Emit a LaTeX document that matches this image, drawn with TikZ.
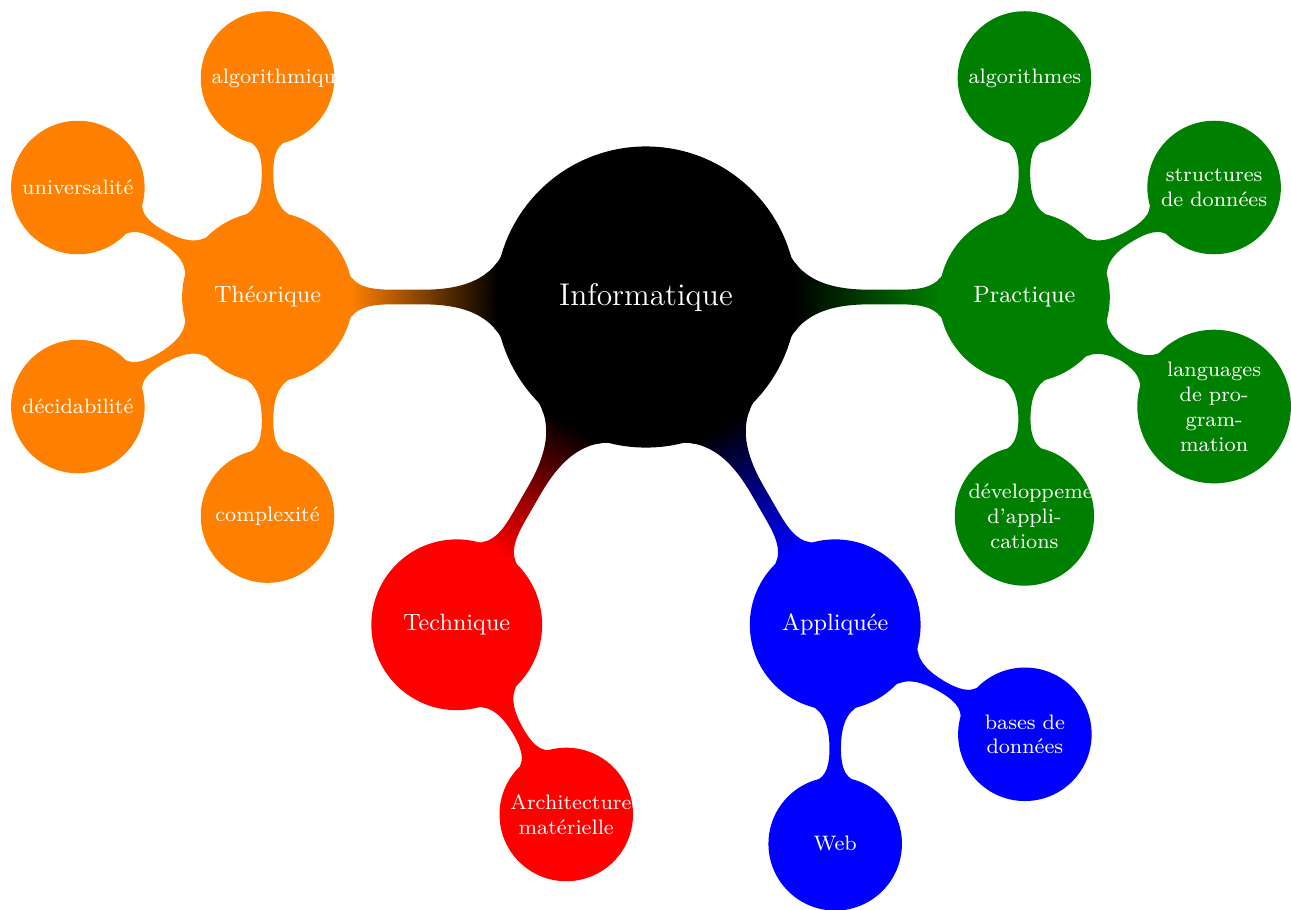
\documentclass[tikz,border=0pt]{standalone}
\usepackage{tikz}
\usetikzlibrary{mindmap}
\pgfdeclarelayer{bg}
\pgfsetlayers{bg,main}

\begin{document}
\begin{tikzpicture}[mindmap, text=white,
        rootc/.style={concept, root concept, concept color=black},
        lvlone/.style={concept, level 1 concept, concept color=#1},
        lvltwo/.style={concept, level 2 concept, concept color=#1},
        cbar/.style 2 args={circle connection bar switch color=from (#1) to (#2)}]
        \useasboundingbox (-8.671cm, -8.215cm) rectangle (8.658cm, 3.987cm);
        \node (info) [rootc] at (0.000000cm, 0.000000cm) {Informatique};
        \node (theo) [lvlone=orange] at (-5.080000cm, 0.000000cm) {Théorique};
        \node (prat) [lvlone=green!50!black] at (5.080000cm, 0.000000cm) {Practique};
        \node (tech) [lvlone=red] at (-2.540000cm, -4.399409cm) {Technique};
        \node (appl) [lvlone=blue] at (2.540000cm, -4.399409cm) {Appliquée};
        \node (algq) [lvltwo=orange] at (-5.080000cm, 2.940000cm) {algorithmique};
        \node (univ) [lvltwo=orange] at (-7.626114cm, 1.470000cm) {universalité};
        \node (deci) [lvltwo=orange] at (-7.626114cm, -1.470000cm) {décidabilité};
        \node (cplx) [lvltwo=orange] at (-5.080000cm, -2.940000cm) {complexité};
        \node (algs) [lvltwo=green!50!black] at (5.080000cm, 2.940000cm) {algorithmes};
        \node (strc) [lvltwo=green!50!black] at (7.626114cm, 1.470000cm) {structures de données};
        \node (lang) [lvltwo=green!50!black] at (7.626114cm, -1.470000cm) {languages de pro\-gram\-mation};
        \node (dev) [lvltwo=green!50!black] at (5.080000cm, -2.940000cm) {développement d'appli\-cations};
        \node (arch) [lvltwo=red] at (-1.070000cm, -6.945523cm) {Architecture matérielle};
        \node (bdd) [lvltwo=blue] at (5.086114cm, -5.869409cm) {bases de données};
        \node (web) [lvltwo=blue] at (2.540000cm, -7.339409cm) {Web};
        \begin{pgfonlayer}{bg}
                \path [level 1 concept] (info) to [cbar={black}{orange}] (theo);
                \path [level 1 concept] (info) to [cbar={black}{green!50!black}] (prat);
                \path [level 1 concept] (info) to [cbar={black}{red}] (tech);
                \path [level 1 concept] (info) to [cbar={black}{blue}] (appl);
                \path [level 2 concept] (theo) to [cbar={orange}{orange}] (algq);
                \path [level 2 concept] (theo) to [cbar={orange}{orange}] (univ);
                \path [level 2 concept] (theo) to [cbar={orange}{orange}] (deci);
                \path [level 2 concept] (theo) to [cbar={orange}{orange}] (cplx);
                \path [level 2 concept] (prat) to [cbar={green!50!black}{green!50!black}] (algs);
                \path [level 2 concept] (prat) to [cbar={green!50!black}{green!50!black}] (strc);
                \path [level 2 concept] (prat) to [cbar={green!50!black}{green!50!black}] (lang);
                \path [level 2 concept] (prat) to [cbar={green!50!black}{green!50!black}] (dev);
                \path [level 2 concept] (tech) to [cbar={red}{red}] (arch);
                \path [level 2 concept] (appl) to [cbar={blue}{blue}] (bdd);
                \path [level 2 concept] (appl) to [cbar={blue}{blue}] (web);
        \end{pgfonlayer}
\end{tikzpicture}
\end{document}
